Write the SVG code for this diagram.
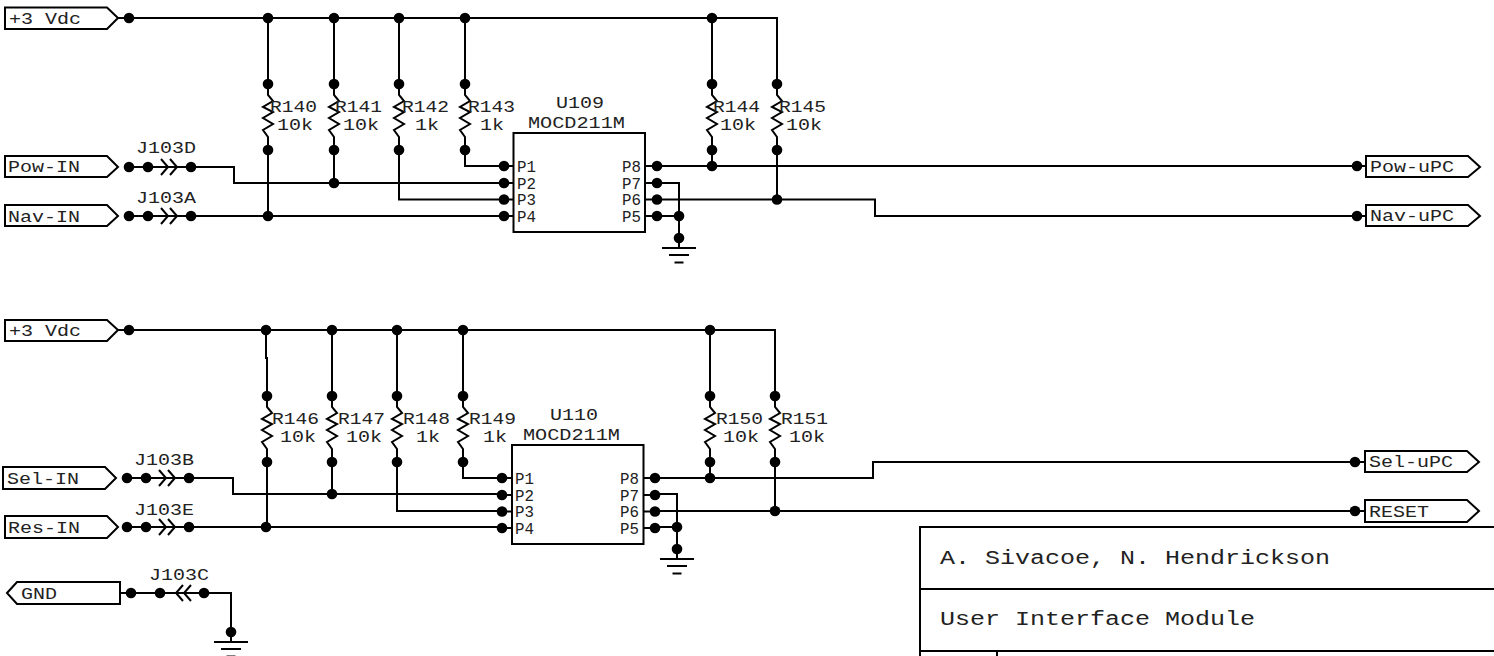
<svg xmlns="http://www.w3.org/2000/svg" xmlns:xlink="http://www.w3.org/1999/xlink" width="1494" height="656" viewBox="0 0 1494 656">
<style>
text{font-family:"Liberation Mono",monospace;fill:#222;font-size:15.800px}
.b{font-size:20px}
line,path,polyline,rect,polygon{fill:none;stroke:#000;stroke-width:2}
.box{fill:#fff}
.dot{fill:#000;stroke:none}
</style>
<defs>
<circle id="d" class="dot" r="5.300"/>
<g id="res"><path d="M0,-33V-22L5,-16L-5,-10L5,-5L-5,1L5,7L-5,13L0,20V33"/><use xlink:href="#d" y="-33"/><use xlink:href="#d" y="33"/></g>
<g id="jr"><path d="M0,0H62"/><use xlink:href="#d"/><use xlink:href="#d" x="19"/><use xlink:href="#d" x="62"/><path d="M32,-8L39,0L32,8M41,-8L48,0L41,8M32,0H39"/></g>
<g id="jl"><path d="M0,0H73"/><use xlink:href="#d"/><use xlink:href="#d" x="29"/><use xlink:href="#d" x="73"/><path d="M52,-8L45,0L52,8M60,-8L53,0L60,8"/></g>
<g id="gnd"><use xlink:href="#d"/><path d="M0,0V10M-17,10H17M-10,17H10M-4.500,24.500H4.500"/></g>
<g id="pins"><path d="M0,0H9M0,17H9M0,33.500H9M0,50H9M141,0H153M141,17H153M141,33.500H153M141,50H153"/><use xlink:href="#d"/><use xlink:href="#d" y="17"/><use xlink:href="#d" y="33.500"/><use xlink:href="#d" y="50"/><use xlink:href="#d" x="153"/><use xlink:href="#d" x="153" y="17"/><use xlink:href="#d" x="153" y="33.500"/><use xlink:href="#d" x="153" y="50"/></g>
</defs>

<g id="connectors">
<path d="M118,18H777V84M268,18V84M334,18V84M399,18V84M465,18V84M712,18V84"/>
<path d="M268,150V216M334,150V183M399,150V199.500H504M465,150V166H504M712,150V166M777,150V199.500"/>
<path d="M191,167H234V183H504M191,216H504M657,166H1366M657,199.500H875V216H1366M657,183H679V238M657,216H679"/>
<path d="M118,330H775V396M266,330V358H267V396M332,330V396M397,330V396M463,330V396M710,330V396"/>
<path d="M267,462V527M332,462V494M397,462V511H502M463,462V478H502M710,462V478M775,462V511"/>
<path d="M189,478H233V494H502M189,527H502M655,478H873V462H1365M655,511H1365M655,494H677V549M655,527H677"/>
<path d="M120,593H231V632"/>
<g id="junctions">
<use xlink:href="#d" x="129" y="18"/><use xlink:href="#d" x="268" y="18"/><use xlink:href="#d" x="334" y="18"/><use xlink:href="#d" x="399" y="18"/><use xlink:href="#d" x="465" y="18"/><use xlink:href="#d" x="712" y="18"/>
<use xlink:href="#d" x="268" y="216"/><use xlink:href="#d" x="334" y="183"/><use xlink:href="#d" x="712" y="166"/><use xlink:href="#d" x="777" y="199.500"/><use xlink:href="#d" x="679" y="216"/>
<use xlink:href="#d" x="1357" y="166"/><use xlink:href="#d" x="1357" y="216"/>
<use xlink:href="#d" x="129" y="330"/><use xlink:href="#d" x="266" y="330"/><use xlink:href="#d" x="332" y="330"/><use xlink:href="#d" x="397" y="330"/><use xlink:href="#d" x="463" y="330"/><use xlink:href="#d" x="710" y="330"/>
<use xlink:href="#d" x="266" y="527"/><use xlink:href="#d" x="332" y="494"/><use xlink:href="#d" x="710" y="478"/><use xlink:href="#d" x="775" y="511"/><use xlink:href="#d" x="677" y="527"/>
<use xlink:href="#d" x="1355" y="462"/><use xlink:href="#d" x="1355" y="511"/>
</g>
</g>

<g id="port-vdc1"><polygon class="box" points="5,7.500 107,7.500 118,18 107,29 5,29"/><text x="9" y="24" textLength="72" lengthAdjust="spacingAndGlyphs">+3 Vdc</text></g>
<g id="port-pow-in"><polygon class="box" points="5,156 107,156 118,167 107,177 5,177"/><text x="8" y="172" textLength="72" lengthAdjust="spacingAndGlyphs">Pow-IN</text></g>
<g id="port-nav-in"><polygon class="box" points="5,205 107,205 118,216 107,226 5,226"/><text x="8" y="222" textLength="72" lengthAdjust="spacingAndGlyphs">Nav-IN</text></g>
<g id="port-vdc2"><polygon class="box" points="5,320 107,320 118,330 107,341 5,341"/><text x="9" y="336" textLength="72" lengthAdjust="spacingAndGlyphs">+3 Vdc</text></g>
<g id="port-sel-in"><polygon class="box" points="3,467 105,467 116,478 105,489 3,489"/><text x="7" y="484" textLength="72" lengthAdjust="spacingAndGlyphs">Sel-IN</text></g>
<g id="port-res-in"><polygon class="box" points="5,516 107,516 118,527 107,538 5,538"/><text x="8" y="533" textLength="72" lengthAdjust="spacingAndGlyphs">Res-IN</text></g>
<g id="port-gnd"><polygon class="box" points="7,593 17,582 120,582 120,604 17,604"/><text x="21" y="599" textLength="36" lengthAdjust="spacingAndGlyphs">GND</text></g>
<g id="port-pow-upc"><polygon class="box" points="1366,156 1468,156 1480,167 1468,177 1366,177"/><text x="1370" y="172" textLength="84" lengthAdjust="spacingAndGlyphs">Pow-uPC</text></g>
<g id="port-nav-upc"><polygon class="box" points="1366,205 1468,205 1480,216 1468,226 1366,226"/><text x="1370" y="221" textLength="84" lengthAdjust="spacingAndGlyphs">Nav-uPC</text></g>
<g id="port-sel-upc"><polygon class="box" points="1365,451 1467,451 1479,462 1467,472 1365,472"/><text x="1369" y="467" textLength="84" lengthAdjust="spacingAndGlyphs">Sel-uPC</text></g>
<g id="port-reset"><polygon class="box" points="1365,500 1467,500 1479,511 1467,522 1365,522"/><text x="1369" y="517" textLength="60" lengthAdjust="spacingAndGlyphs">RESET</text></g>

<g id="j103d"><use xlink:href="#jr" x="129" y="167"/><text x="136" y="153" textLength="60" lengthAdjust="spacingAndGlyphs">J103D</text></g>
<g id="j103a"><use xlink:href="#jr" x="129" y="216"/><text x="136" y="203" textLength="60" lengthAdjust="spacingAndGlyphs">J103A</text></g>
<g id="j103b"><use xlink:href="#jr" x="127" y="478"/><text x="134" y="465" textLength="60" lengthAdjust="spacingAndGlyphs">J103B</text></g>
<g id="j103e"><use xlink:href="#jr" x="127" y="527"/><text x="134" y="515" textLength="60" lengthAdjust="spacingAndGlyphs">J103E</text></g>
<g id="j103c"><use xlink:href="#jl" x="131" y="593"/><text x="149" y="580" textLength="60" lengthAdjust="spacingAndGlyphs">J103C</text></g>

<g id="r140"><use xlink:href="#res" x="268" y="117"/><text x="270" y="112" textLength="47" lengthAdjust="spacingAndGlyphs">R140</text><text x="277" y="130" textLength="36" lengthAdjust="spacingAndGlyphs">10k</text></g>
<g id="r141"><use xlink:href="#res" x="334" y="117"/><text x="335" y="112" textLength="47" lengthAdjust="spacingAndGlyphs">R141</text><text x="343" y="130" textLength="36" lengthAdjust="spacingAndGlyphs">10k</text></g>
<g id="r142"><use xlink:href="#res" x="399" y="117"/><text x="402" y="112" textLength="47" lengthAdjust="spacingAndGlyphs">R142</text><text x="415" y="130" textLength="24" lengthAdjust="spacingAndGlyphs">1k</text></g>
<g id="r143"><use xlink:href="#res" x="465" y="117"/><text x="468" y="112" textLength="47" lengthAdjust="spacingAndGlyphs">R143</text><text x="480" y="130" textLength="24" lengthAdjust="spacingAndGlyphs">1k</text></g>
<g id="r144"><use xlink:href="#res" x="712" y="117"/><text x="713" y="112" textLength="47" lengthAdjust="spacingAndGlyphs">R144</text><text x="720" y="130" textLength="36" lengthAdjust="spacingAndGlyphs">10k</text></g>
<g id="r145"><use xlink:href="#res" x="777" y="117"/><text x="779" y="112" textLength="47" lengthAdjust="spacingAndGlyphs">R145</text><text x="786" y="130" textLength="36" lengthAdjust="spacingAndGlyphs">10k</text></g>
<g id="r146"><use xlink:href="#res" x="267" y="429"/><text x="272" y="424" textLength="47" lengthAdjust="spacingAndGlyphs">R146</text><text x="280" y="442" textLength="36" lengthAdjust="spacingAndGlyphs">10k</text></g>
<g id="r147"><use xlink:href="#res" x="332" y="429"/><text x="338" y="424" textLength="47" lengthAdjust="spacingAndGlyphs">R147</text><text x="346" y="442" textLength="36" lengthAdjust="spacingAndGlyphs">10k</text></g>
<g id="r148"><use xlink:href="#res" x="397" y="429"/><text x="403" y="424" textLength="47" lengthAdjust="spacingAndGlyphs">R148</text><text x="416" y="442" textLength="24" lengthAdjust="spacingAndGlyphs">1k</text></g>
<g id="r149"><use xlink:href="#res" x="463" y="429"/><text x="469" y="424" textLength="47" lengthAdjust="spacingAndGlyphs">R149</text><text x="483" y="442" textLength="24" lengthAdjust="spacingAndGlyphs">1k</text></g>
<g id="r150"><use xlink:href="#res" x="710" y="429"/><text x="716" y="424" textLength="47" lengthAdjust="spacingAndGlyphs">R150</text><text x="723" y="442" textLength="36" lengthAdjust="spacingAndGlyphs">10k</text></g>
<g id="r151"><use xlink:href="#res" x="775" y="429"/><text x="781" y="424" textLength="47" lengthAdjust="spacingAndGlyphs">R151</text><text x="789" y="442" textLength="36" lengthAdjust="spacingAndGlyphs">10k</text></g>

<g id="u109">
<rect class="box" x="513.500" y="133" width="131.500" height="99"/>
<use xlink:href="#pins" x="504" y="166"/>
<text x="556" y="108" textLength="48" lengthAdjust="spacingAndGlyphs">U109</text><text x="528" y="128" textLength="97" lengthAdjust="spacingAndGlyphs">MOCD211M</text>
<text x="517" y="172">P1</text><text x="517" y="189">P2</text><text x="517" y="205">P3</text><text x="517" y="222">P4</text>
<text x="622" y="172">P8</text><text x="622" y="189">P7</text><text x="622" y="205">P6</text><text x="622" y="222">P5</text>
</g>
<g id="u110">
<rect class="box" x="512" y="445" width="131.500" height="99"/>
<use xlink:href="#pins" x="502" y="478"/>
<text x="550" y="420" textLength="48" lengthAdjust="spacingAndGlyphs">U110</text><text x="523" y="440" textLength="97" lengthAdjust="spacingAndGlyphs">MOCD211M</text>
<text x="515" y="484">P1</text><text x="515" y="501">P2</text><text x="515" y="517">P3</text><text x="515" y="534">P4</text>
<text x="620" y="484">P8</text><text x="620" y="501">P7</text><text x="620" y="517">P6</text><text x="620" y="534">P5</text>
</g>

<g id="gnd1"><use xlink:href="#gnd" x="679" y="238"/></g>
<g id="gnd2"><use xlink:href="#gnd" x="677" y="549"/></g>
<g id="gnd3"><use xlink:href="#gnd" x="231" y="632"/></g>

<g id="title-block">
<path d="M1494,527H920V656M920,589H1494M920,651H1494M997,651V656"/>
<text class="b" x="940" y="564" textLength="390" lengthAdjust="spacingAndGlyphs">A. Sivacoe, N. Hendrickson</text>
<text class="b" x="940" y="625" textLength="315" lengthAdjust="spacingAndGlyphs">User Interface Module</text>
</g>
</svg>
